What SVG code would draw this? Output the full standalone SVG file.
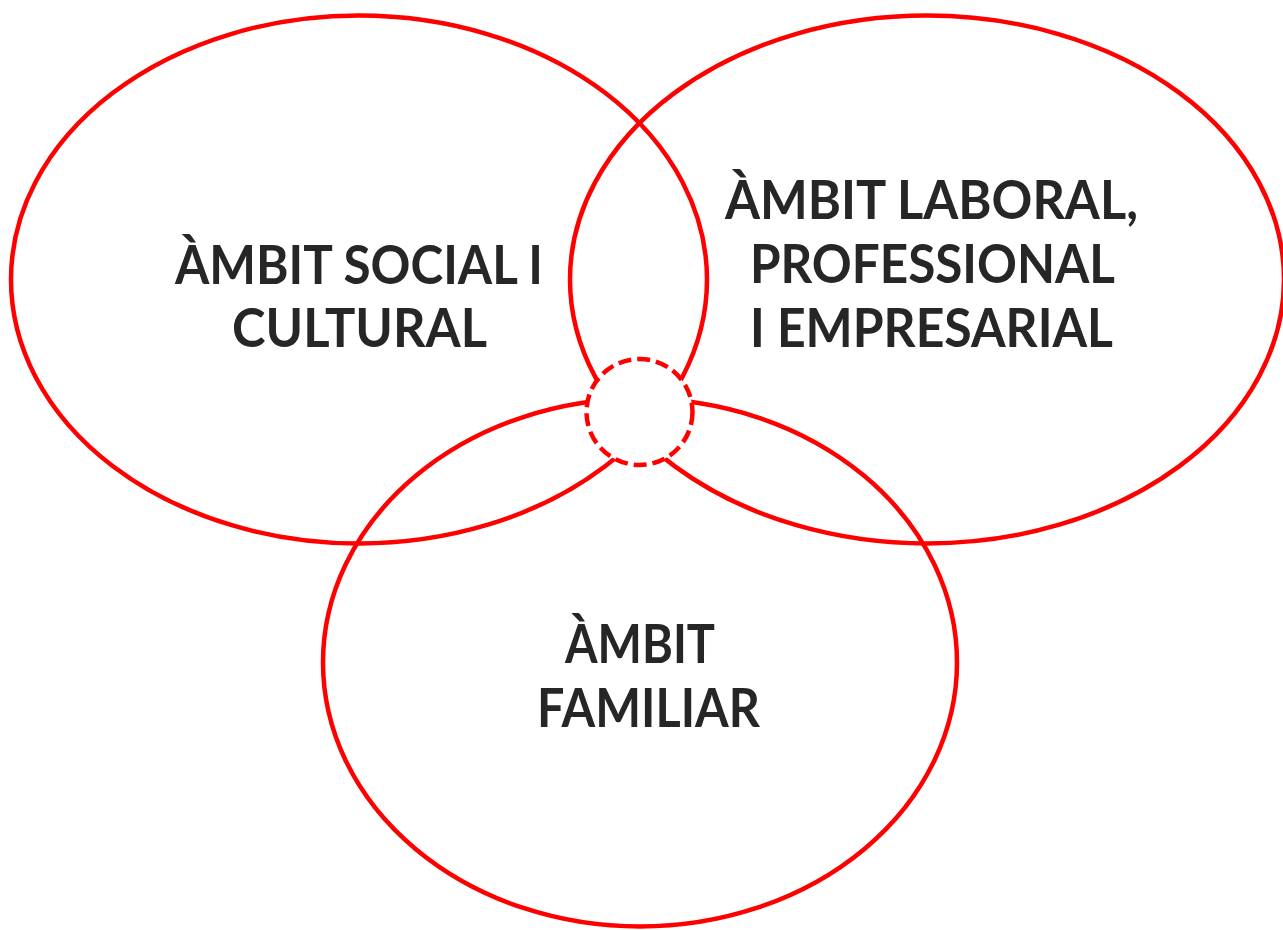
<svg xmlns="http://www.w3.org/2000/svg" width="1283" height="930" viewBox="0 0 1283 930">
<style>
.ring{fill:none;stroke:#FF0000;stroke-width:4.5}
.core{fill:#FFFFFF;stroke:#FF0000;stroke-width:4.5;stroke-dasharray:13 6}
.lbl{font-family:Lato,"Liberation Sans",Arial,sans-serif;font-weight:bold;font-size:53px;fill:#262626}
</style>
<rect width="1283" height="930" fill="#FFFFFF"/>
<g id="social">
<ellipse class="ring" cx="359" cy="279.5" rx="348" ry="264"/>
</g>
<g id="laboral">
<ellipse class="ring" cx="927" cy="279.5" rx="357" ry="264"/>
</g>
<g id="familiar">
<ellipse class="ring" cx="640" cy="662.5" rx="317" ry="264"/>
</g>
<g id="centre">
<circle class="core" cx="639.5" cy="412" r="53"/>
</g>
<g id="connectors"></g>
<g id="labels">
<text class="lbl" x="175" y="284" textLength="368" lengthAdjust="spacingAndGlyphs">ÀMBIT SOCIAL I</text>
<text class="lbl" x="232" y="347" textLength="255" lengthAdjust="spacingAndGlyphs">CULTURAL</text>
<text class="lbl" x="725" y="219" textLength="413" lengthAdjust="spacingAndGlyphs">ÀMBIT LABORAL,</text>
<text class="lbl" x="750" y="283" textLength="365" lengthAdjust="spacingAndGlyphs">PROFESSIONAL</text>
<text class="lbl" x="750" y="347" textLength="363" lengthAdjust="spacingAndGlyphs">I EMPRESARIAL</text>
<text class="lbl" x="565" y="663" textLength="150" lengthAdjust="spacingAndGlyphs">ÀMBIT</text>
<text class="lbl" x="537" y="727" textLength="223" lengthAdjust="spacingAndGlyphs">FAMILIAR</text>
</g>
</svg>
